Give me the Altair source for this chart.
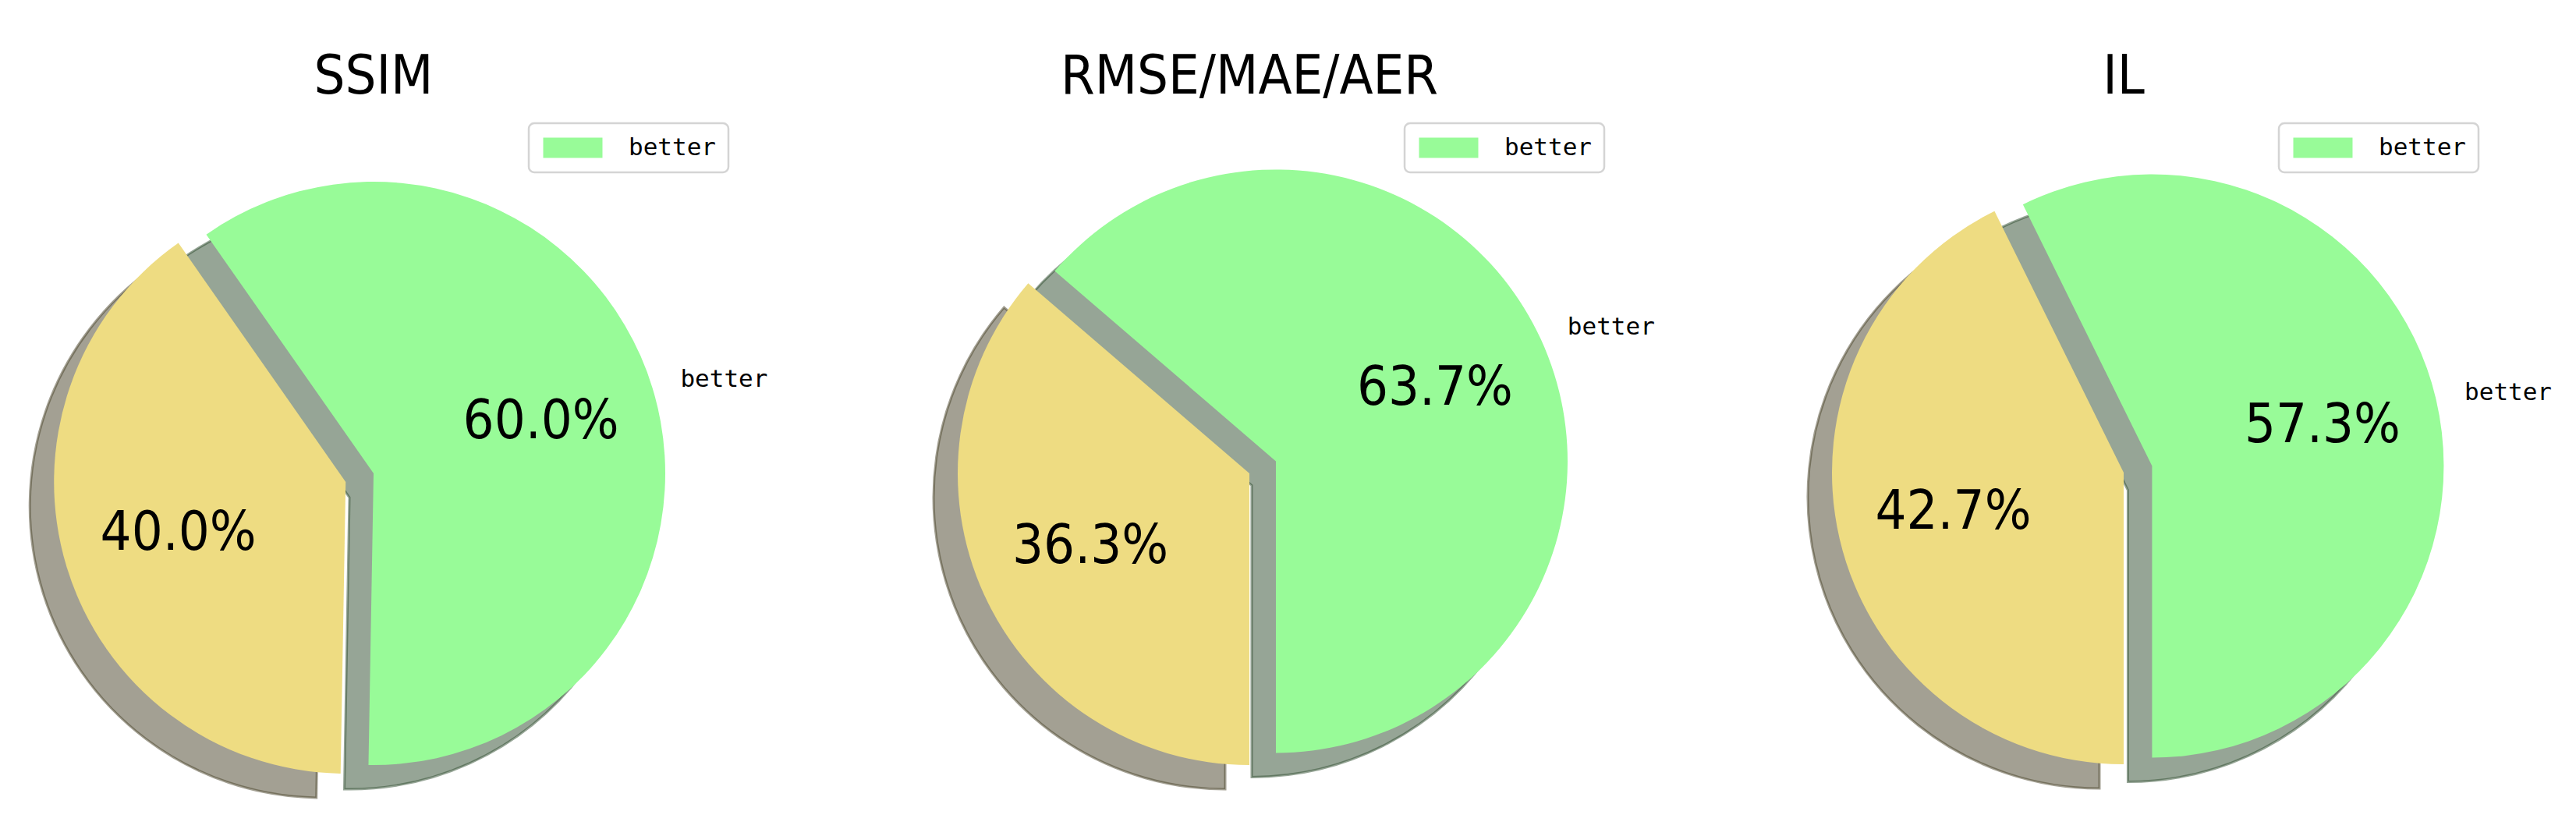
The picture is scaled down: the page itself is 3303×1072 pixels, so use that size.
import math
import altair as alt
import pandas as pd

# ---- data ----
titles = ["SSIM", "RMSE/MAE/AER", "IL"]
categories = ["better", "worse"]
slice_labels = ["better", ""]
better_pct = [60.0, 63.7, 57.3]
worse_pct = [40.0, 36.3, 42.7]

# ---- style / layout ----
explode_better = [0.0, 0.1, 0.1]
explode_worse = [0.1, 0.0, 0.0]
colors = ["#98FB98", "#EEDC82"]
shadow_colors = ["#2E4B2E", "#474227"]
BIG_FONT = "'DejaVu Sans Condensed', 'DejaVu Sans', sans-serif"
SMALL_FONT = "'DejaVu Sans Mono', 'Liberation Mono', monospace"
R = 374
PANEL_W = 1030
PANEL_H = 1040
SPACING = 92
centers_x = [471, 472, 471]
centers_y = [599, 599, 598]
start_offset_deg = [1.0, 0.0, 0.0]
SHADOW_DX, SHADOW_DY = -31, 31


def panel(i):
    df = pd.DataFrame({
        "cat": categories,
        "label": slice_labels,
        "value": [better_pct[i], worse_pct[i]],
        "explode": [explode_better[i], explode_worse[i]],
        "order": [1, 0],
    })
    a0 = math.pi + math.radians(start_offset_deg[i])
    cx, cy = centers_x[i], centers_y[i]
    theta_scale = alt.Scale(domain=[0, 100], range=[a0, a0 + 2 * math.pi])

    base = alt.Chart(df).transform_window(
        end="sum(value)", sort=[alt.SortField("order")], frame=[None, 0]
    ).transform_calculate(
        start="datum.end - datum.value",
        mid=f"{a0} + 2*PI*(datum.end - datum.value/2)/100",
    ).transform_calculate(
        px=f"{cx} + datum.explode*{R}*sin(datum.mid)",
        py=f"{cy} - datum.explode*{R}*cos(datum.mid)",
    )

    shadow = base.transform_calculate(
        sx=f"datum.px + ({SHADOW_DX})",
        sy=f"datum.py + ({SHADOW_DY})",
        shade=f"datum.cat == '{categories[0]}' ? '{shadow_colors[0]}' : '{shadow_colors[1]}'",
    ).mark_arc(radius=R, fillOpacity=0.5, strokeOpacity=0.5, strokeWidth=3).encode(
        x=alt.X("sx:Q", scale=None, axis=None),
        y=alt.Y("sy:Q", scale=None, axis=None),
        theta=alt.Theta("start:Q", scale=theta_scale),
        theta2="end:Q",
        fill=alt.Fill("shade:N", scale=None),
        stroke=alt.Stroke("shade:N", scale=None),
    )

    legend = alt.Legend(
        values=["better"], orient="none", legendX=cx + 199, legendY=150, title=None,
        symbolType="M-1,-1H4.846V1H-1Z", symbolSize=676, symbolStrokeWidth=0,
        symbolOpacity=1, labelOffset=81, labelFont=SMALL_FONT, labelFontSize=31,
        labelColor="black", padding=16, strokeColor="#d4d4d4", cornerRadius=7,
        fillColor="white",
    )

    wedges = base.mark_arc(radius=R, opacity=1).encode(
        x=alt.X("px:Q", scale=None, axis=None),
        y=alt.Y("py:Q", scale=None, axis=None),
        theta=alt.Theta("start:Q", scale=theta_scale),
        theta2="end:Q",
        color=alt.Color("cat:N", scale=alt.Scale(domain=categories, range=colors), legend=legend),
    )

    pct = base.transform_calculate(
        tx=f"datum.px + 0.6*{R}*sin(datum.mid)",
        ty=f"datum.py - 0.6*{R}*cos(datum.mid)",
        txt="format(datum.value, '.1f') + '%'",
    ).mark_text(font=BIG_FONT, fontSize=70, color="black", align="center", baseline="middle").encode(
        x=alt.X("tx:Q", scale=None, axis=None),
        y=alt.Y("ty:Q", scale=None, axis=None),
        text="txt:N",
    )

    outer = base.transform_calculate(
        lx=f"datum.px + 1.1*{R}*sin(datum.mid)",
        ly=f"datum.py - 1.1*{R}*cos(datum.mid)",
    ).mark_text(font=SMALL_FONT, fontSize=31, color="black", align="left", baseline="middle").encode(
        x=alt.X("lx:Q", scale=None, axis=None),
        y=alt.Y("ly:Q", scale=None, axis=None),
        text="label:N",
    )

    title = alt.Chart(alt.Data(values=[{"t": titles[i]}])).mark_text(
        font=BIG_FONT, fontSize=70, color="black", align="center", baseline="alphabetic"
    ).encode(x=alt.value(cx), y=alt.value(112), text="t:N")

    return alt.layer(shadow, wedges, pct, outer, title).properties(width=PANEL_W, height=PANEL_H)


chart = alt.hconcat(*[panel(i) for i in range(3)], spacing=SPACING).resolve_scale(
    color="independent", theta="independent"
).configure_view(stroke=None).configure_legend(strokeWidth=2.5).properties(padding=0)

chart.save("out.html", embed_options={"renderer": "svg", "actions": False})
